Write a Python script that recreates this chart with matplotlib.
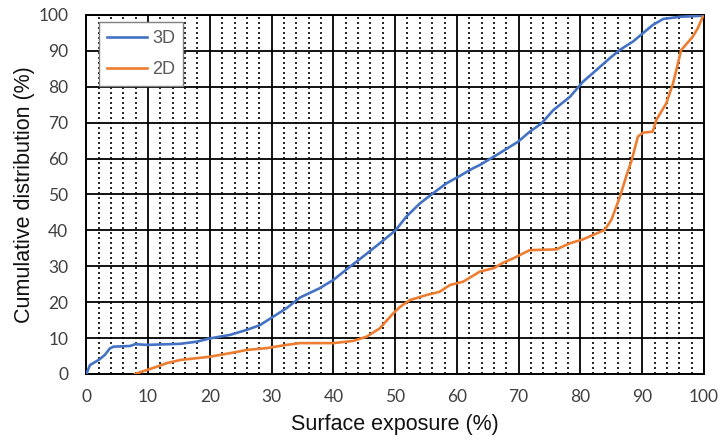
import matplotlib
matplotlib.use("Agg")
import matplotlib.pyplot as plt
from matplotlib.ticker import MultipleLocator

# Cumulative distribution of surface exposure, 3D vs 2D
x_3d = [0, 0.6, 2.0, 3.0, 3.8, 4.4, 7.1, 7.9, 9.8, 15.2, 17.9, 20.0, 23.3, 26.0, 28.1,
        30.3, 32.4, 34.6, 37.8, 40.0, 42.7, 44.8, 47.5, 50.0, 51.8, 54.0, 56.1, 58.3,
        60.5, 62.6, 63.7, 66.9, 69.9, 71.8, 73.7, 75.6, 78.3, 80.4, 82.6, 84.7, 86.4,
        88.5, 90.1, 91.7, 93.4, 96.1, 99.8]
y_3d = [0, 2.5, 3.9, 5.3, 7.1, 7.6, 7.8, 8.3, 8.1, 8.4, 9.0, 9.9, 10.9, 12.3, 13.6,
        16.0, 18.3, 21.3, 23.9, 26.2, 29.9, 32.7, 36.4, 39.9, 43.8, 47.5, 50.3, 53.1,
        55.2, 57.3, 58.2, 61.5, 64.7, 67.5, 69.8, 73.5, 77.2, 81.4, 84.7, 87.9, 90.3,
        92.6, 94.9, 97.2, 98.9, 99.5, 99.8]

x_2d = [7.9, 9.8, 11.4, 13.0, 15.2, 17.9, 20.0, 23.3, 26.0, 29.2, 32.4, 34.6, 40.0,
        43.2, 45.4, 47.5, 49.7, 50.8, 52.4, 55.1, 57.2, 58.9, 61.0, 63.7, 66.0, 67.5,
        69.1, 71.8, 76.1, 78.3, 80.4, 82.0, 83.9, 85.0, 86.4, 87.4, 88.3, 89.3, 90.1,
        91.7, 92.3, 93.9, 95.0, 96.3, 98.2, 99.0, 99.8]
y_2d = [0, 1.1, 2.0, 3.0, 3.9, 4.4, 4.8, 5.8, 6.7, 7.2, 8.1, 8.6, 8.6,
        9.2, 10.4, 12.7, 16.9, 18.7, 20.6, 22.0, 22.9, 24.8, 25.7, 28.5, 29.5, 31.0,
        32.2, 34.5, 34.7, 36.4, 37.5, 38.7, 40.1, 42.9, 49.4, 55.0, 59.6, 66.1, 67.2,
        67.5, 70.8, 75.4, 81.0, 90.2, 94.0, 96.3, 99.5]

x_ticks = list(range(0, 101, 10))
y_ticks = list(range(0, 101, 10))

fig = plt.figure(figsize=(7.21, 4.41), dpi=100)
ax = fig.add_axes([0.1197, 0.152, 0.8567, 0.814])

ax.plot(x_3d, y_3d, color="#4472C4", lw=1.9, label="3D", solid_joinstyle="round", zorder=4)
ax.plot(x_2d, y_2d, color="#ED7D31", lw=1.9, label="2D", solid_joinstyle="round", zorder=4)

ax.set_xlim(0, 100)
ax.set_ylim(0, 100)
ax.set_xticks(x_ticks)
ax.set_yticks(y_ticks)
ax.xaxis.set_minor_locator(MultipleLocator(2))

ax.grid(which="major", color="black", lw=1.3, zorder=1)
ax.grid(which="minor", axis="x", color="black", lw=1.2, linestyle=(0, (1.2, 1.8)), zorder=1)
ax.tick_params(which="both", length=0)
ax.tick_params(axis="x", pad=11)
ax.tick_params(axis="y", pad=13)
for spine in ax.spines.values():
    spine.set_color("black")
    spine.set_linewidth(1.4)

for lbl in ax.get_xticklabels() + ax.get_yticklabels():
    lbl.set_fontfamily(["Lato", "DejaVu Sans"])
    lbl.set_fontsize(12.5)
    lbl.set_color("#404040")

ax.set_xlabel("Surface exposure (%)", family="Liberation Sans", fontsize=15.5, color="#111111", labelpad=6)
ax.set_ylabel("Cumulative distribution (%)", family="Liberation Sans", fontsize=15.5, color="#111111", labelpad=2)

leg = ax.legend(loc="upper left", bbox_to_anchor=(0.02, 0.98), fancybox=False, framealpha=1,
                edgecolor="#808080", handlelength=2.2, handletextpad=0.3, labelspacing=0.75,
                borderpad=0.45, borderaxespad=0,
                prop={"family": "Liberation Sans", "size": 13})
leg.get_frame().set_linewidth(1.0)
for t in leg.get_texts():
    t.set_color("#595959")
leg.set_zorder(5)

fig.savefig("out.png", dpi=100)
